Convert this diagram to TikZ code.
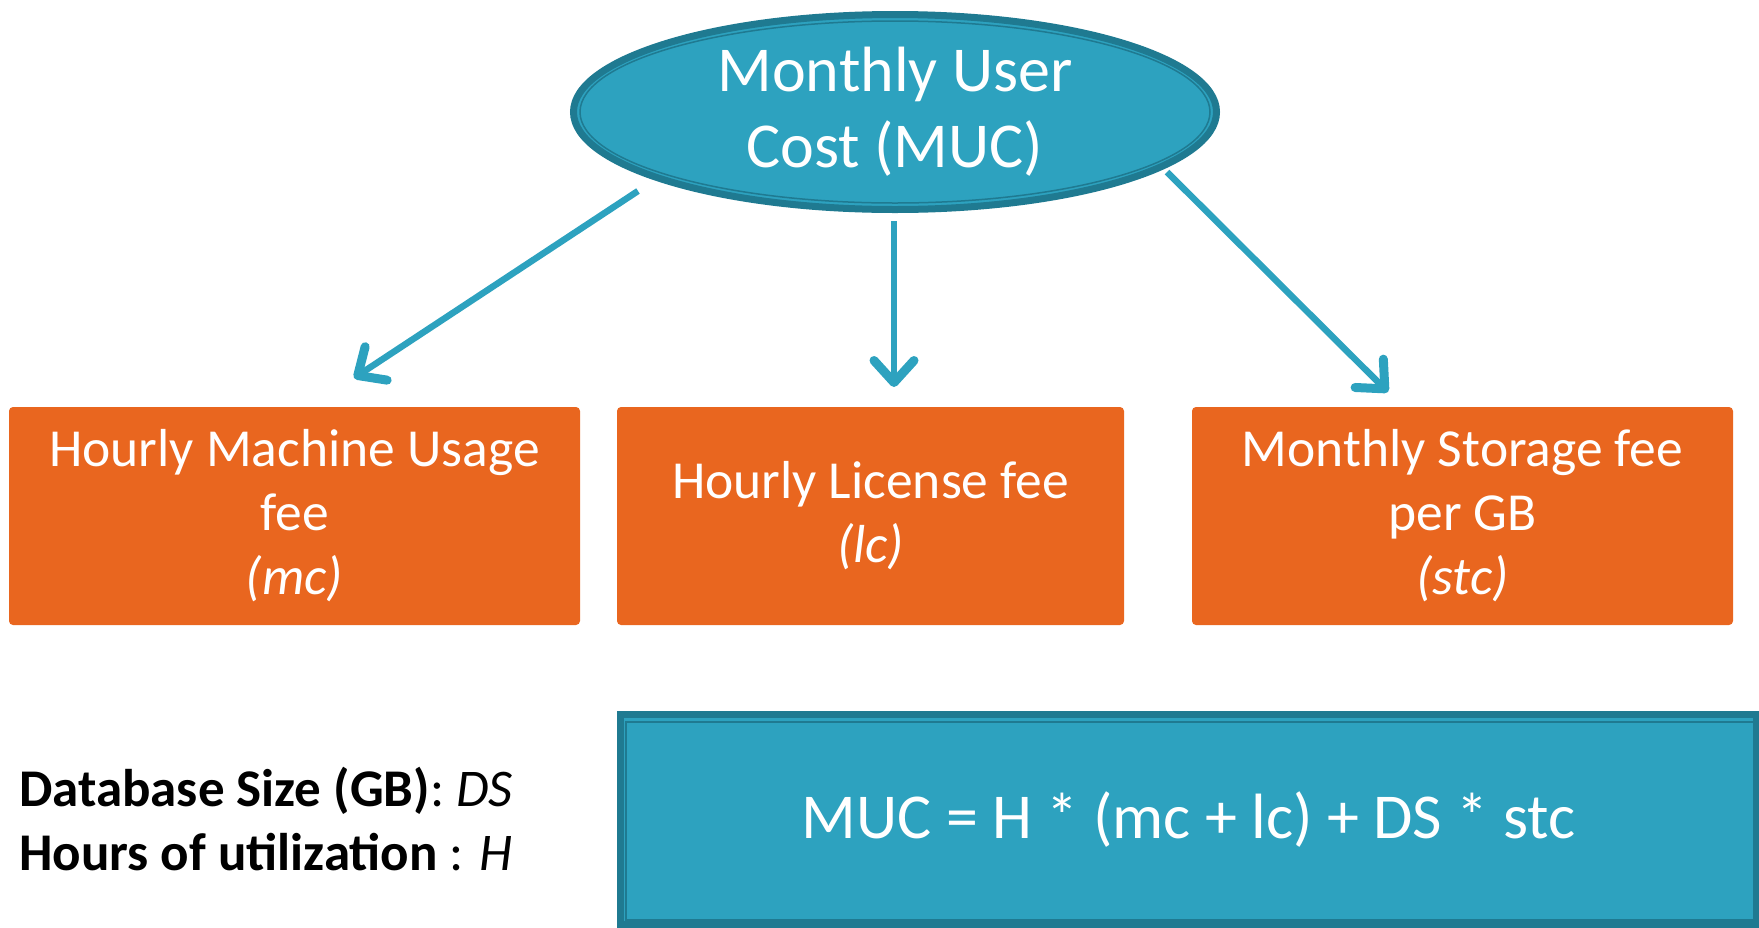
\documentclass[tikz,border=0pt]{standalone}
\usepackage{fontspec}
\setmainfont{Carlito}
\usetikzlibrary{arrows.meta,positioning,shapes.geometric}
\definecolor{mucteal}{RGB}{45,162,191}
\definecolor{mucdark}{RGB}{31,122,145}
\definecolor{feeorange}{RGB}{233,102,31}

\begin{document}
\begin{tikzpicture}[x=1pt,y=-1pt,
				every node/.style={inner sep=0pt, align=center},
				costnode/.style={ellipse, fill=mucteal, draw=mucdark, line width=7pt,
					minimum width=643pt, minimum height=195pt, text=white,
					font=\fontsize{64}{76}\selectfont},
				feebox/.style={rectangle, rounded corners=4pt, fill=feeorange,
					minimum height=218pt, text=white, font=\fontsize{53.5}{64}\selectfont},
				formulabox/.style={rectangle, fill=mucteal, draw=mucdark, line width=7pt,
					minimum width=1136pt, minimum height=210pt, text=white,
					font=\fontsize{64}{78}\selectfont},
				innerline/.style={draw=mucdark, line width=1.5pt},
				costarrow/.style={draw=mucteal, line width=6.5pt,
					-{Straight Barb[round,length=22pt,width=40pt,line width'=9pt]}}]
			\useasboundingbox (0,0) rectangle (1759,927);
			\node[costnode] (muc) at (895,112) {Monthly User\\Cost (MUC)};
			\draw[innerline] (muc.center) ellipse [x radius=315pt, y radius=91pt];
			\node[feebox, minimum width=571pt] (mc) at (294.5,516) {Hourly Machine Usage\\fee\\\textit{(mc)}};
			\node[feebox, minimum width=507pt] (lc) at (870.5,516) {Hourly License fee\\\textit{(lc)}};
			\node[feebox, minimum width=541pt] (stc) at (1462.5,516) {Monthly Storage fee\\per GB\\\textit{(stc)}};
			\node[formulabox] (formula) at (1188.5,819.5) {MUC = H * (mc + lc) + DS * stc};
			\draw[innerline] (626,722) rectangle (1754,920);
			\node[anchor=west, align=left, font=\fontsize{53}{64}\selectfont] (vars) at (19,819)
				{\textbf{Database Size (GB)}: \textit{DS}\\\textbf{Hours of utilization} : \textit{H}};
			\coordinate (s1) at (638,191);
			\coordinate (t1) at (354,378);
			\coordinate (s2) at (894,221);
			\coordinate (t2) at (894,387);
			\coordinate (s3) at (1167,172);
			\coordinate (t3) at (1388,392);
			\draw[costarrow] (s1) -- (t1);
			\draw[costarrow] (s2) -- (t2);
			\draw[costarrow] (s3) -- (t3);
		\end{tikzpicture}
\end{document}
